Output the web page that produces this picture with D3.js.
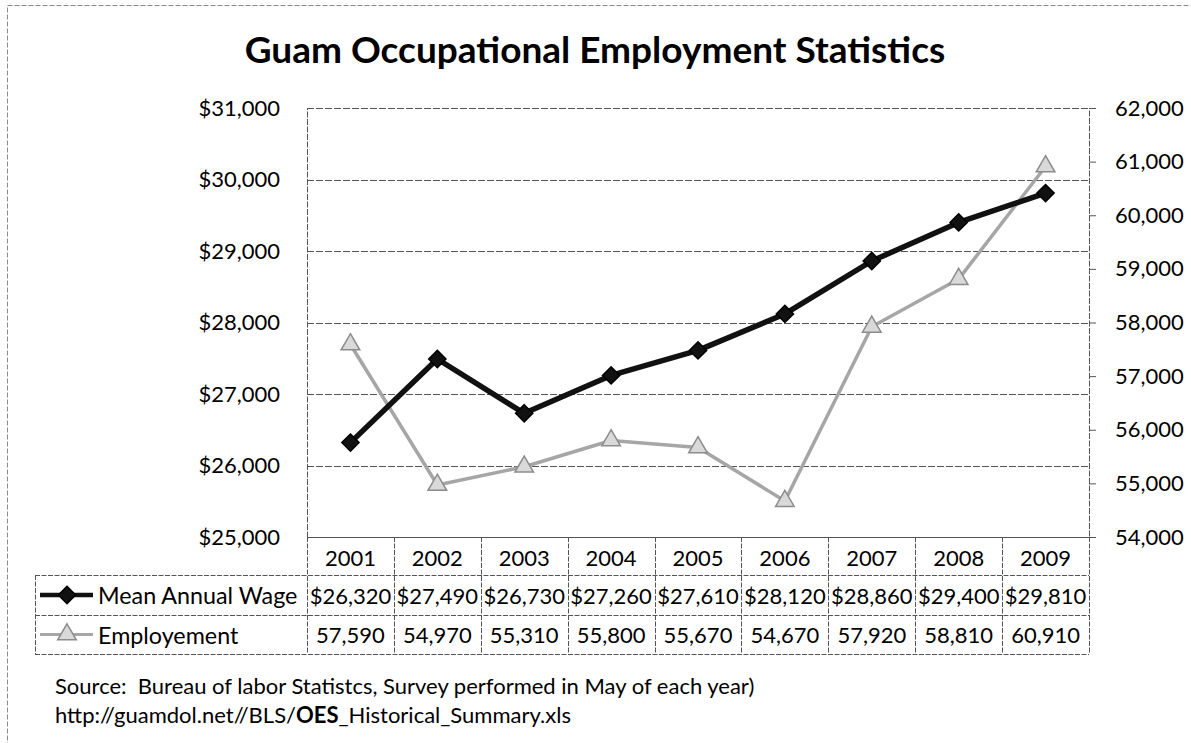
<!DOCTYPE html>
<html>
<head>
<meta charset="utf-8">
<script src="https://cdn.jsdelivr.net/npm/d3@7"></script>
<style>
  html, body { margin: 0; padding: 0; background: #fff; }
  svg { display: block; font-family: Lato, "Open Sans", sans-serif; }
  .pre { white-space: pre; }
</style>
</head>
<body>
<svg id="chart" width="1191" height="743"></svg>
<script>
// Guam OES: mean annual wage (left axis) and employment (right axis)
const years = ["2001", "2002", "2003", "2004", "2005", "2006", "2007", "2008", "2009"];
const meanAnnualWage = [26320, 27490, 26730, 27260, 27610, 28120, 28860, 29400, 29810];
const employment = [57590, 54970, 55310, 55800, 55670, 54670, 57920, 58810, 60910];
const wageTicks = [25000, 26000, 27000, 28000, 29000, 30000, 31000];
const employmentTicks = [54000, 55000, 56000, 57000, 58000, 59000, 60000, 61000, 62000];

const seriesNames = ["Mean Annual Wage", "Employement"];
const titleText = "Guam Occupational Employment Statistics";

const svg = d3.select("#chart");

// plot frame
const plot = { left: 307, right: 1089, top: 108, bottom: 537 };
const table = { left: 35, header: 575, row1: 615, row2: 654 };

const x = d3.scaleBand().domain(years).range([plot.left, plot.right]).padding(0);
const yL = d3.scaleLinear().domain([25000, 31000]).range([plot.bottom, plot.top]);
const yR = d3.scaleLinear().domain([54000, 62000]).range([plot.bottom, plot.top]);
const cx = d => x(d) + x.bandwidth() / 2;

const fmtMoney = v => "$" + d3.format(",")(v);
const fmtNum = d3.format(",");

// outer chart border
svg.append("rect")
  .attr("x", 7.5).attr("y", 5.5).attr("width", 1200).attr("height", 760)
  .attr("fill", "none").attr("stroke", "#8a8a8a").attr("stroke-width", 1)
  .attr("stroke-dasharray", "5 2");

// title
svg.append("text")
  .attr("x", 595).attr("y", 63)
  .attr("text-anchor", "middle")
  .attr("font-size", 37).attr("font-weight", 700).attr("fill", "#000")
  .text(titleText);

// horizontal gridlines from the left (wage) axis
svg.append("g").selectAll("line")
  .data(wageTicks)
  .join("line")
  .attr("x1", plot.left).attr("x2", plot.right)
  .attr("y1", d => Math.round(yL(d)) + 0.5).attr("y2", d => Math.round(yL(d)) + 0.5)
  .attr("stroke", "#555").attr("stroke-width", 1)
  .attr("stroke-dasharray", d => d === 25000 ? null : "7 2");

// left axis labels (no tick marks)
const leftAxis = d3.axisLeft(yL).tickValues(wageTicks).tickFormat(fmtMoney).tickSize(0).tickPadding(27);
const gL = svg.append("g").attr("transform", `translate(${plot.left},0)`).call(leftAxis);
gL.select(".domain").attr("stroke", "#555").attr("stroke-dasharray", "6 1.5");
gL.selectAll("text").attr("font-size", 22).attr("fill", "#000").attr("font-family", "Lato");

// right axis with outward ticks
const rightAxis = d3.axisRight(yR).tickValues(employmentTicks).tickFormat(fmtNum).tickSize(7).tickPadding(19);
const gR = svg.append("g").attr("transform", `translate(${plot.right},0)`).call(rightAxis);
gR.select(".domain").attr("stroke", "#555").attr("stroke-dasharray", "6 1.5");
gR.selectAll(".tick line").attr("stroke", "#555");
gR.selectAll("text").attr("font-size", 22).attr("fill", "#000").attr("font-family", "Lato");

// data table grid
const grid = svg.append("g").attr("stroke", "#555").attr("stroke-width", 1).attr("fill", "none");
// vertical column dividers through header and rows
grid.selectAll("line.col")
  .data(years.concat(["end"]))
  .join("line")
  .attr("class", "col")
  .attr("x1", (d, i) => Math.round(i < years.length ? x(d) : plot.right) + 0.5)
  .attr("x2", (d, i) => Math.round(i < years.length ? x(d) : plot.right) + 0.5)
  .attr("y1", plot.bottom).attr("y2", table.row2)
  .attr("stroke-dasharray", "5 1.5");
// horizontal row lines
grid.selectAll("line.row")
  .data([table.header, table.row1, table.row2])
  .join("line")
  .attr("class", "row")
  .attr("x1", table.left).attr("x2", plot.right)
  .attr("y1", d => d + 0.5).attr("y2", d => d + 0.5)
  .attr("stroke-dasharray", "5 1.5");
grid.append("line")
  .attr("x1", table.left + 0.5).attr("x2", table.left + 0.5)
  .attr("y1", table.header).attr("y2", table.row2)
  .attr("stroke-dasharray", "5 1.5");

// year labels in header row
svg.append("g").selectAll("text")
  .data(years)
  .join("text")
  .attr("x", d => cx(d))
  .attr("y", (plot.bottom + table.header) / 2 + 1)
  .attr("text-anchor", "middle").attr("dominant-baseline", "central")
  .attr("font-size", 22).attr("fill", "#000")
  .text(d => d);

// table values
const rowMid1 = (table.header + table.row1) / 2;
const rowMid2 = (table.row1 + table.row2) / 2;
svg.append("g").selectAll("text")
  .data(meanAnnualWage)
  .join("text")
  .attr("x", (d, i) => cx(years[i]))
  .attr("y", rowMid1)
  .attr("text-anchor", "middle").attr("dominant-baseline", "central")
  .attr("font-size", 22).attr("fill", "#000")
  .text(d => fmtMoney(d));
svg.append("g").selectAll("text")
  .data(employment)
  .join("text")
  .attr("x", (d, i) => cx(years[i]))
  .attr("y", rowMid2)
  .attr("text-anchor", "middle").attr("dominant-baseline", "central")
  .attr("font-size", 22).attr("fill", "#000")
  .text(d => fmtNum(d));

// symbols
const diamond = d3.symbol().type(d3.symbolDiamond2).size(190);
const triangle = d3.symbol().type(d3.symbolTriangle).size(150);

// series legend keys inside the table
const key = svg.append("g");
key.append("line").attr("x1", 40).attr("x2", 93).attr("y1", rowMid1).attr("y2", rowMid1)
  .attr("stroke", "#111").attr("stroke-width", 4.5);
key.append("path").attr("d", diamond).attr("transform", `translate(67,${rowMid1})`)
  .attr("fill", "#111").attr("stroke", "#000").attr("stroke-width", 1.5);
key.append("line").attr("x1", 40).attr("x2", 93).attr("y1", rowMid2).attr("y2", rowMid2)
  .attr("stroke", "#a6a6a6").attr("stroke-width", 3);
key.append("path").attr("d", triangle).attr("transform", `translate(67,${rowMid2})`)
  .attr("fill", "#d9d9d9").attr("stroke", "#8c8c8c").attr("stroke-width", 1.5);
key.selectAll("text")
  .data(seriesNames)
  .join("text")
  .attr("x", 98).attr("y", (d, i) => i === 0 ? rowMid1 : rowMid2)
  .attr("dominant-baseline", "central")
  .attr("font-size", 23.3).attr("fill", "#000")
  .text(d => d);

// employment line (right axis)
const empLine = d3.line().x((d, i) => cx(years[i])).y(d => yR(d));
svg.append("path")
  .datum(employment)
  .attr("d", empLine)
  .attr("fill", "none").attr("stroke", "#a6a6a6").attr("stroke-width", 3.5)
  .attr("stroke-linejoin", "round");
svg.append("g").selectAll("path")
  .data(employment)
  .join("path")
  .attr("d", triangle)
  .attr("transform", (d, i) => `translate(${cx(years[i])},${yR(d)})`)
  .attr("fill", "#d9d9d9").attr("stroke", "#8c8c8c").attr("stroke-width", 1.5);

// wage line (left axis)
const wageLine = d3.line().x((d, i) => cx(years[i])).y(d => yL(d));
svg.append("path")
  .datum(meanAnnualWage)
  .attr("d", wageLine)
  .attr("fill", "none").attr("stroke", "#111").attr("stroke-width", 5.5)
  .attr("stroke-linejoin", "round");
svg.append("g").selectAll("path")
  .data(meanAnnualWage)
  .join("path")
  .attr("d", diamond)
  .attr("transform", (d, i) => `translate(${cx(years[i])},${yL(d)})`)
  .attr("fill", "#111").attr("stroke", "#000").attr("stroke-width", 1.5);

// source note
const note = svg.append("g").attr("font-size", 22).attr("fill", "#000");
note.append("text").attr("class", "pre").attr("x", 55).attr("y", 685).attr("dominant-baseline", "central")
  .text("Source:  Bureau of labor Statistcs, Survey performed in May of each year)");
const url = note.append("text").attr("x", 55).attr("y", 714).attr("dominant-baseline", "central");
url.append("tspan").text("http://guamdol.net//BLS/");
url.append("tspan").attr("font-weight", 700).text("OES");
url.append("tspan").text("_Historical_Summary.xls");
</script>
</body>
</html>
